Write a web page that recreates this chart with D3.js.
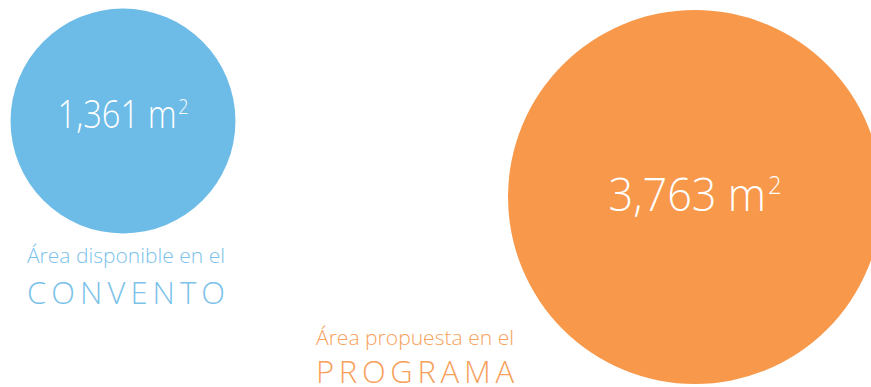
<!DOCTYPE html>
<html>
<head>
<meta charset="utf-8">
<script src="https://cdn.jsdelivr.net/npm/d3@7"></script>
<style>
  html, body { margin: 0; padding: 0; background: #fff; }
  svg { display: block; }
</style>
</head>
<body>
<svg width="871" height="387"></svg>
<script>
// chart data
let areaNames = ["CONVENTO", "PROGRAMA"];
let areaCaptions = ["Área disponible en el", "Área propuesta en el"];
let areaValues = [1361, 3763];
let areaColours = ["#6dbbe7", "#f7984a"];
let captionColours = ["#7cc2ea", "#f7a15c"];

window.onload = function() {
  drawChart();
}

function drawChart() {
  let svg = d3.select('svg');
  let fontFam = "'Open Sans', 'Noto Sans', sans-serif";

  // radius by area
  let rScale = d3.scaleSqrt()
    .domain([0, d3.max(areaValues)])
    .range([0, 187]);

  // layout: where each bubble and its caption sits
  let layout = [
    {cx: 123, cy: 121, valSize: 38, valW: 131, valY: 128, labelX: 126, captionY: 263, nameY: 304},
    {cx: 695, cy: 197, valSize: 46, valW: 173, valY: 211, labelX: 415, captionY: 345, nameY: 383}
  ];

  let nodes = areaValues.map((v, i) => ({
    value: v,
    name: areaNames[i],
    caption: areaCaptions[i],
    fill: areaColours[i],
    textFill: captionColours[i],
    r: rScale(v),
    ...layout[i]
  }));

  let fmt = d3.format(",");

  let node = svg.selectAll('.node')
    .data(nodes)
    .enter().append('g')
    .attr('class', 'node');

  node.append('circle')
    .attr('cx', d => d.cx)
    .attr('cy', d => d.cy)
    .attr('r', d => d.r)
    .style('fill', d => d.fill);

  // value label inside bubble
  let valText = node.append('text')
    .attr('x', d => d.cx)
    .attr('y', d => d.valY)
    .attr('text-anchor', 'middle')
    .attr('textLength', d => d.valW)
    .attr('lengthAdjust', 'spacingAndGlyphs')
    .style('font-family', fontFam)
    .style('font-weight', 300)
    .style('font-size', d => d.valSize + 'px')
    .style('fill', '#fff');

  valText.append('tspan')
    .text(d => fmt(d.value) + ' m');
  valText.append('tspan')
    .attr('dx', 2)
    .attr('dy', d => -(d.valSize * 0.36))
    .style('font-size', d => (d.valSize * 0.55) + 'px')
    .text('2');

  // captions
  node.append('text')
    .attr('x', d => d.labelX)
    .attr('y', d => d.captionY)
    .attr('text-anchor', 'middle')
    .attr('textLength', 198)
    .attr('lengthAdjust', 'spacingAndGlyphs')
    .style('font-family', fontFam)
    .style('font-weight', 300)
    .style('font-size', '20px')
    .style('fill', d => d.textFill)
    .text(d => d.caption);

  node.append('text')
    .attr('x', d => d.labelX)
    .attr('y', d => d.nameY)
    .attr('text-anchor', 'middle')
    .attr('textLength', 198)
    .attr('lengthAdjust', 'spacing')
    .style('font-family', fontFam)
    .style('font-weight', 300)
    .style('font-size', '31px')
    .style('fill', d => d.textFill)
    .text(d => d.name);
}
</script>
</body>
</html>
